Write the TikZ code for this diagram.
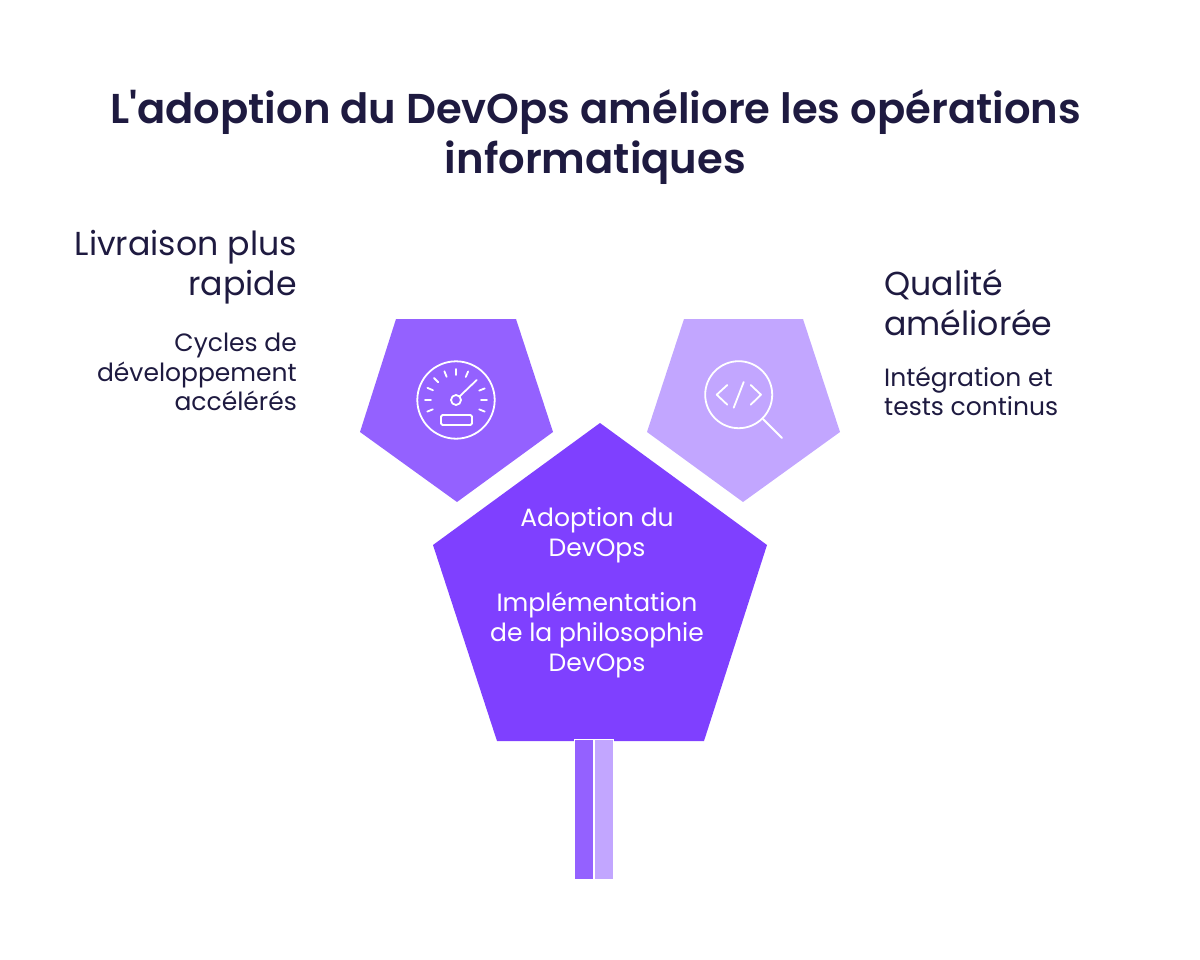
\documentclass[tikz,border=0pt]{standalone}
\usepackage{fontspec}
\setmainfont{Poppins}
\newfontfamily\titlefont{Poppins SemiBold}
\usetikzlibrary{positioning}
\definecolor{inkdark}{HTML}{1E1A40}
\definecolor{violetmain}{HTML}{7F40FF}
\definecolor{violetmid}{HTML}{9461FF}
\definecolor{violetpale}{HTML}{C2A6FF}
\tikzset{
    headtext/.style={inner sep=0pt,text=inkdark,font=\fontsize{33.2}{40}\selectfont},
    subtext/.style={inner sep=0pt,text=inkdark,font=\fontsize{25}{29.5}\selectfont},
    centertext/.style={inner sep=0pt,text=white,align=center,font=\fontsize{25}{30}\selectfont},
    iconline/.style={draw=white,line width=1.8pt,line cap=round,line join=round},
    barline/.style={draw=white,line width=0.7pt}
}
\begin{document}
\begin{tikzpicture}[x=1pt,y=-1pt]
\useasboundingbox (0,0) rectangle (1200,960);
\node[inner sep=0pt,align=center,text=inkdark,font=\titlefont\fontsize{41.7}{50}\selectfont] (title) at (595.5,137.5) {L'adoption du DevOps améliore les opérations\\informatiques};
% pentagons
\fill[violetmid] (396,319) -- (516,319) -- (553,432) -- (457,502) -- (360,432) -- cycle;
\fill[violetpale] (684,319) -- (803,319) -- (840,432) -- (743,502) -- (647,432) -- cycle;
\fill[violetmain] (600,423) -- (767,545) -- (704,741) -- (497,741) -- (433,545) -- cycle;
% bars
\filldraw[fill=violetmid,barline] (574.6,739.5) rectangle (593.4,879);
\filldraw[fill=violetpale,barline] (594.6,739.5) rectangle (613.4,879);
% gauge
\draw[iconline] (456,400) circle(38.7);
\draw[iconline] (456,400) circle(5);
\draw[iconline] (459.5,396.5) -- (476.7,380);
\draw[iconline,rounded corners=1.5pt] (441,415) rectangle (472,425);
\begin{scope}[shift={(456,400)}]
\foreach \ang in {-22,0,22,67,90,112,135,157,180,202}
    \draw[iconline] (-\ang:25) -- (-\ang:31);
\end{scope}
% magnifier
\draw[iconline] (738.7,394.7) circle(33.5);
\draw[iconline] (763,419) -- (782,438);
\draw[iconline] (727.3,385) -- (716.7,394.7) -- (727.3,404.7);
\draw[iconline] (750.7,385) -- (761,394.7) -- (750.7,404.7);
\draw[iconline] (743.7,382) -- (733.7,407.7);
% labels
\node[headtext,align=right,anchor=north east] (speedhead) at (297,230) {Livraison plus\\rapide};
\node[subtext,align=right,below=29pt of speedhead.south east,anchor=north east] (speedsub) {Cycles de\\développement\\accélérés};
\node[headtext,align=left,anchor=north west] (qualityhead) at (884,269.5) {Qualité\\améliorée};
\node[subtext,align=left,below=30.5pt of qualityhead.south west,anchor=north west] (qualitysub) {Intégration et\\tests continus};
\node[centertext] (centerhead) at (597,535) {Adoption du\\DevOps};
\node[centertext,below=29pt of centerhead] (centersub) {Implémentation\\de la philosophie\\DevOps};
\end{tikzpicture}
\end{document}
